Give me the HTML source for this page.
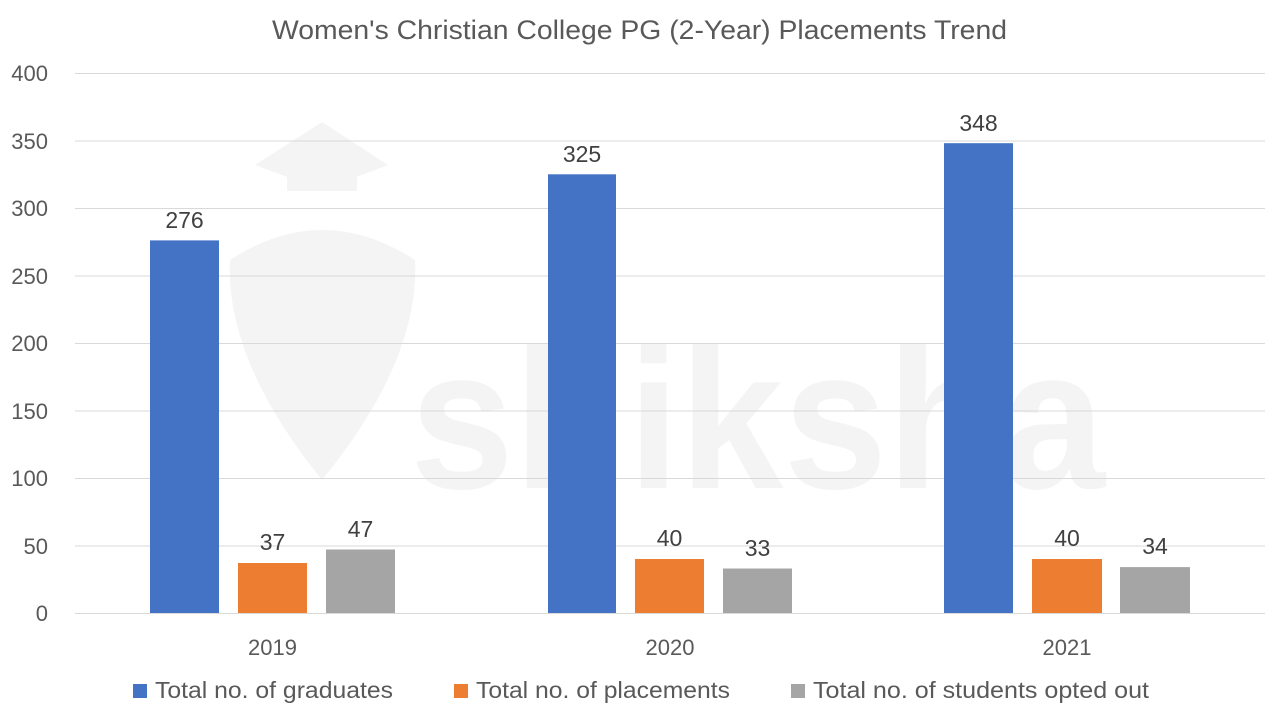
<!DOCTYPE html>
<html><head><meta charset="utf-8"><style>
html,body{margin:0;padding:0;background:#fff}
svg{display:block}
text{font-family:"Liberation Sans",sans-serif}
</style></head><body>
<svg width="1280" height="720" viewBox="0 0 1280 720" xmlns="http://www.w3.org/2000/svg">
<rect width="1280" height="720" fill="#fff"/>
<g fill="#f4f4f4">
<text x="410" y="488" font-size="200" font-weight="bold" textLength="695" lengthAdjust="spacingAndGlyphs">shiksha</text>
<polygon points="255,165 322,122 388,165 322,190"/>
<rect x="287" y="165" width="70" height="26"/>
<path d="M230,260 Q322,200 415,260 Q420,360 322,480 Q225,360 230,260 Z"/>
</g>
<text x="272" y="39" font-size="27" fill="#595959" textLength="735" lengthAdjust="spacingAndGlyphs">Women's Christian College PG (2-Year) Placements Trend</text>
<g stroke="#d9d9d9" stroke-width="1">
<line x1="75" x2="1265" y1="73.5" y2="73.5"/>
<line x1="75" x2="1265" y1="141" y2="141"/>
<line x1="75" x2="1265" y1="208.5" y2="208.5"/>
<line x1="75" x2="1265" y1="276" y2="276"/>
<line x1="75" x2="1265" y1="343.5" y2="343.5"/>
<line x1="75" x2="1265" y1="411" y2="411"/>
<line x1="75" x2="1265" y1="478.5" y2="478.5"/>
<line x1="75" x2="1265" y1="546" y2="546"/>
<line x1="75" x2="1265" y1="613.5" y2="613.5"/>
</g>
<g font-size="22" fill="#595959" text-anchor="end">
<text x="48" y="81">400</text>
<text x="48" y="149">350</text>
<text x="48" y="216">300</text>
<text x="48" y="284">250</text>
<text x="48" y="351">200</text>
<text x="48" y="419">150</text>
<text x="48" y="486">100</text>
<text x="48" y="554">50</text>
<text x="48" y="621">0</text>
</g>
<g>
<rect x="150" y="240.4" width="69" height="372.6" fill="#4472c4"/>
<rect x="238" y="563" width="69" height="50" fill="#ed7d31"/>
<rect x="326" y="549.5" width="69" height="63.5" fill="#a5a5a5"/>
<rect x="548" y="174.3" width="68" height="438.7" fill="#4472c4"/>
<rect x="635" y="559" width="69" height="54" fill="#ed7d31"/>
<rect x="723" y="568.5" width="69" height="44.5" fill="#a5a5a5"/>
<rect x="944" y="143.2" width="69" height="469.8" fill="#4472c4"/>
<rect x="1032" y="559" width="70" height="54" fill="#ed7d31"/>
<rect x="1120" y="567.1" width="70" height="45.9" fill="#a5a5a5"/>
</g>
<g font-size="23" fill="#404040" text-anchor="middle">
<text x="184.5" y="228">276</text>
<text x="272.5" y="550">37</text>
<text x="360.5" y="537">47</text>
<text x="582" y="162">325</text>
<text x="669.5" y="546">40</text>
<text x="757.5" y="556">33</text>
<text x="978.5" y="131">348</text>
<text x="1067" y="546">40</text>
<text x="1155" y="554">34</text>
</g>
<g font-size="22" fill="#595959" text-anchor="middle">
<text x="272.5" y="655">2019</text>
<text x="670" y="655">2020</text>
<text x="1067" y="655">2021</text>
</g>
<g font-size="23" fill="#595959">
<rect x="133" y="684" width="14" height="14" fill="#4472c4"/>
<text x="155" y="698" textLength="238" lengthAdjust="spacingAndGlyphs">Total no. of graduates</text>
<rect x="454" y="684" width="14" height="14" fill="#ed7d31"/>
<text x="476" y="698" textLength="254" lengthAdjust="spacingAndGlyphs">Total no. of placements</text>
<rect x="791" y="684" width="14" height="14" fill="#a5a5a5"/>
<text x="813" y="698" textLength="336" lengthAdjust="spacingAndGlyphs">Total no. of students opted out</text>
</g>
</svg>
</body></html>
